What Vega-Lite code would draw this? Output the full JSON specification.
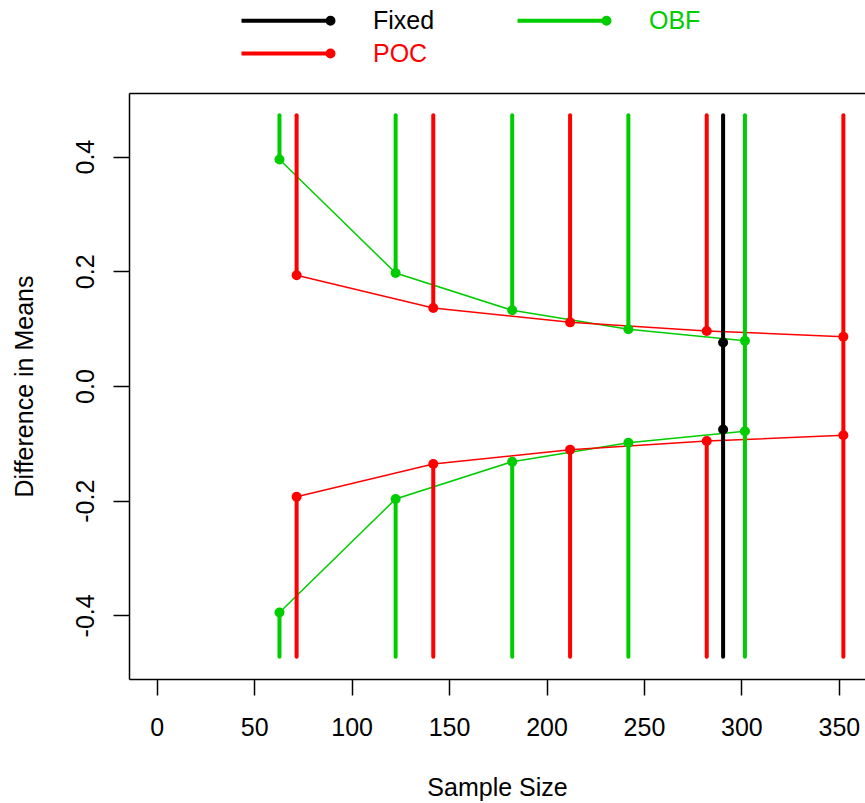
{
  "$schema": "https://vega.github.io/schema/vega-lite/v6.json",
  "width": 736,
  "height": 586,
  "autosize": "none",
  "padding": {"left": 129, "top": 93, "right": 0, "bottom": 124},
  "config": {
    "view": {"stroke": null},
    "font": "Liberation Sans",
    "axis": {"grid": false, "domainColor": "black", "domainWidth": 1.5, "tickColor": "black", "tickWidth": 1.5, "tickSize": 16, "labelColor": "black", "labelFontSize": 25, "titleFontSize": 25, "titleFontWeight": "normal", "titleColor": "black", "labelFont": "Liberation Sans", "titleFont": "Liberation Sans"}
  },
  "datasets": {
    "segs": [
      {"design": "Fixed", "n": 290.6, "from": -0.472, "to": 0.472},
      {"design": "OBF", "n": 63.0, "from": 0.395, "to": 0.472},
      {"design": "OBF", "n": 63.0, "from": -0.472, "to": -0.395},
      {"design": "OBF", "n": 122.6, "from": 0.197, "to": 0.472},
      {"design": "OBF", "n": 122.6, "from": -0.472, "to": -0.197},
      {"design": "OBF", "n": 182.4, "from": 0.132, "to": 0.472},
      {"design": "OBF", "n": 182.4, "from": -0.472, "to": -0.132},
      {"design": "OBF", "n": 242.0, "from": 0.099, "to": 0.472},
      {"design": "OBF", "n": 242.0, "from": -0.472, "to": -0.099},
      {"design": "OBF", "n": 301.8, "from": -0.472, "to": 0.472},
      {"design": "POC", "n": 71.8, "from": 0.193, "to": 0.472},
      {"design": "POC", "n": 71.8, "from": -0.472, "to": -0.193},
      {"design": "POC", "n": 141.9, "from": 0.136, "to": 0.472},
      {"design": "POC", "n": 141.9, "from": -0.472, "to": -0.136},
      {"design": "POC", "n": 212.1, "from": 0.111, "to": 0.472},
      {"design": "POC", "n": 212.1, "from": -0.472, "to": -0.111},
      {"design": "POC", "n": 282.2, "from": 0.096, "to": 0.472},
      {"design": "POC", "n": 282.2, "from": -0.472, "to": -0.096},
      {"design": "POC", "n": 352.3, "from": -0.472, "to": 0.472}
    ],
    "bounds": [
      {"design": "Fixed", "side": "upper", "n": 290.6, "value": 0.076},
      {"design": "Fixed", "side": "lower", "n": 290.6, "value": -0.076},
      {"design": "OBF", "side": "upper", "n": 63.0, "value": 0.395},
      {"design": "OBF", "side": "upper", "n": 122.6, "value": 0.197},
      {"design": "OBF", "side": "upper", "n": 182.4, "value": 0.132},
      {"design": "OBF", "side": "upper", "n": 242.0, "value": 0.099},
      {"design": "OBF", "side": "upper", "n": 301.8, "value": 0.079},
      {"design": "OBF", "side": "lower", "n": 63.0, "value": -0.395},
      {"design": "OBF", "side": "lower", "n": 122.6, "value": -0.197},
      {"design": "OBF", "side": "lower", "n": 182.4, "value": -0.132},
      {"design": "OBF", "side": "lower", "n": 242.0, "value": -0.099},
      {"design": "OBF", "side": "lower", "n": 301.8, "value": -0.079},
      {"design": "POC", "side": "upper", "n": 71.8, "value": 0.193},
      {"design": "POC", "side": "upper", "n": 141.9, "value": 0.136},
      {"design": "POC", "side": "upper", "n": 212.1, "value": 0.111},
      {"design": "POC", "side": "upper", "n": 282.2, "value": 0.096},
      {"design": "POC", "side": "upper", "n": 352.3, "value": 0.086},
      {"design": "POC", "side": "lower", "n": 71.8, "value": -0.193},
      {"design": "POC", "side": "lower", "n": 141.9, "value": -0.136},
      {"design": "POC", "side": "lower", "n": 212.1, "value": -0.111},
      {"design": "POC", "side": "lower", "n": 282.2, "value": -0.096},
      {"design": "POC", "side": "lower", "n": 352.3, "value": -0.086}
    ]
  },
  "layer": [
    {
      "data": {"name": "bounds"},
      "mark": {"type": "line", "strokeWidth": 1.5},
      "encoding": {
        "x": {"field": "n", "type": "quantitative", "scale": {"domain": [-14.2, 363.4], "nice": false, "zero": false},
          "axis": {"values": [0, 50, 100, 150, 200, 250, 300, 350], "title": "Sample Size", "labelBaseline": "alphabetic", "labelPadding": 40, "titleBaseline": "alphabetic", "titleY": 116}},
        "y": {"field": "value", "type": "quantitative", "scale": {"domain": [-0.511, 0.511], "nice": false, "zero": false},
          "axis": {"values": [-0.4, -0.2, 0, 0.2, 0.4], "title": "Difference in Means", "labelAngle": -90, "labelAlign": "center", "labelBaseline": "alphabetic", "labelPadding": 20, "labelExpr": "(datum.value < 0 ? '-' : '') + format(abs(datum.value), '.1f')", "titleBaseline": "alphabetic", "titleX": -97, "titleY": 293, "titleAngle": -90}},
        "color": {"field": "design", "type": "nominal", "scale": {"domain": ["Fixed", "OBF", "POC"], "range": ["#000000", "#00CD00", "#FF0000"]}},
        "detail": {"field": "side"},
        "order": {"field": "n", "type": "quantitative"}
      }
    },
    {
      "data": {"name": "segs"},
      "mark": {"type": "rule", "strokeWidth": 4, "strokeCap": "round"},
      "encoding": {
        "x": {"field": "n", "type": "quantitative", "axis": {"orient": "top", "labels": false, "ticks": false, "title": null, "domain": true}},
        "y": {"field": "from", "type": "quantitative"},
        "y2": {"field": "to"},
        "color": {"field": "design", "type": "nominal"}
      }
    },
    {
      "data": {"name": "bounds"},
      "mark": {"type": "point", "filled": true, "size": 100, "opacity": 1},
      "encoding": {
        "x": {"field": "n", "type": "quantitative", "axis": null},
        "y": {"field": "value", "type": "quantitative"},
        "color": {"field": "design", "type": "nominal",
          "legend": {"title": null, "orient": "none", "legendX": 110, "legendY": -85, "columns": 2, "direction": "horizontal",
            "symbolType": "M-1,0L7.9,0M7.6,0a0.3,0.3 0 1,0 0.6,0a0.3,0.3 0 1,0 -0.6,0",
            "symbolSize": 400, "symbolStrokeWidth": 4, "labelFontSize": 25, "labelOffset": 109, "columnPadding": 74, "rowPadding": 7, "padding": 0, "labelLimit": 300,
            "labelColor": {"expr": "datum.value == 'OBF' ? '#00CD00' : (datum.value == 'POC' ? '#FF0000' : '#000000')"},
            "encode": {
              "symbols": {"update": {"fill": {"scale": "color", "field": "value"}, "stroke": {"scale": "color", "field": "value"}, "strokeCap": {"value": "round"}, "opacity": {"value": 1}}}
            }}}
      }
    }
  ],
  "resolve": {"axis": {"x": "independent"}}
}
